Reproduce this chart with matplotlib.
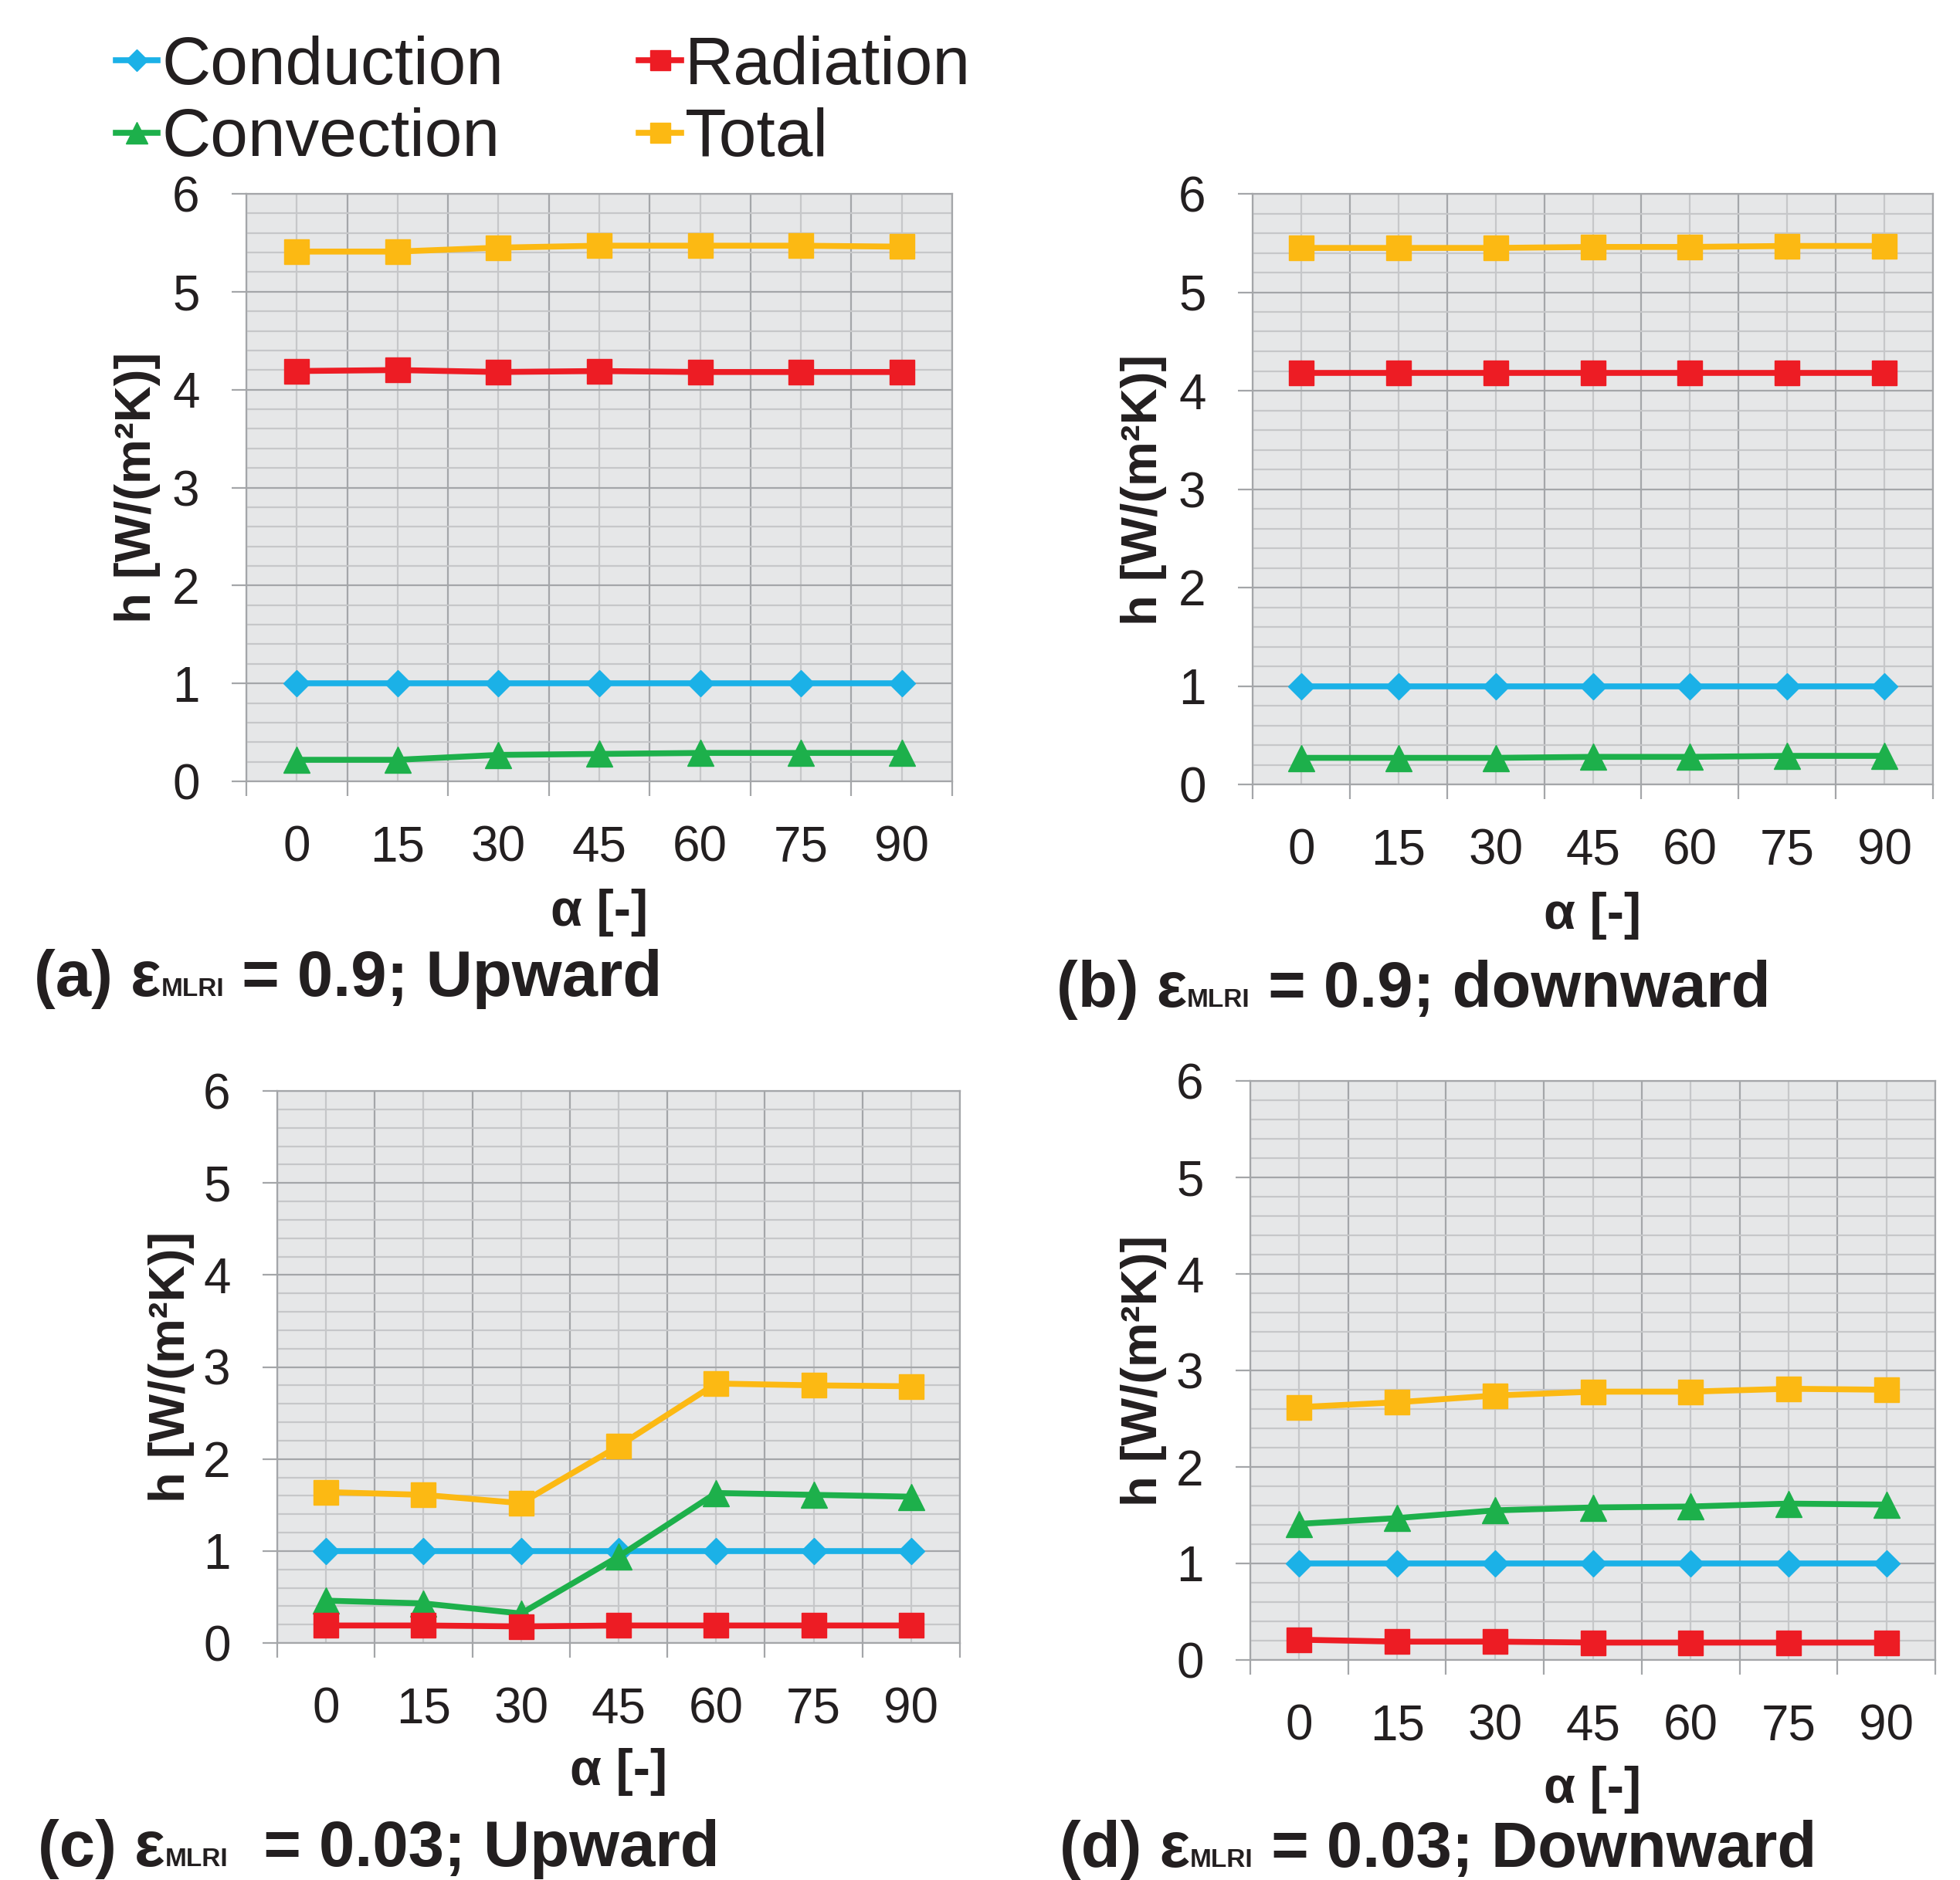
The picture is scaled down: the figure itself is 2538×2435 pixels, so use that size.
import numpy as np
import matplotlib.pyplot as plt
from matplotlib.ticker import MultipleLocator, FixedLocator, NullFormatter, FixedFormatter

# ---------------- data ----------------
angles = ['0', '15', '30', '45', '60', '75', '90']

a_conduction = [1.00, 1.00, 1.00, 1.00, 1.00, 1.00, 1.00]
a_convection = [0.22, 0.22, 0.27, 0.28, 0.29, 0.29, 0.29]
a_radiation = [4.19, 4.20, 4.18, 4.19, 4.18, 4.18, 4.18]
a_total = [5.41, 5.41, 5.45, 5.47, 5.47, 5.47, 5.46]

b_conduction = [1.00, 1.00, 1.00, 1.00, 1.00, 1.00, 1.00]
b_convection = [0.27, 0.27, 0.27, 0.28, 0.28, 0.29, 0.29]
b_radiation = [4.18, 4.18, 4.18, 4.18, 4.18, 4.18, 4.18]
b_total = [5.45, 5.45, 5.45, 5.46, 5.46, 5.47, 5.47]

c_conduction = [1.00, 1.00, 1.00, 1.00, 1.00, 1.00, 1.00]
c_convection = [0.46, 0.43, 0.32, 0.94, 1.63, 1.61, 1.59]
c_radiation = [0.19, 0.19, 0.18, 0.19, 0.19, 0.19, 0.19]
c_total = [1.64, 1.61, 1.52, 2.14, 2.82, 2.80, 2.79]

d_conduction = [1.00, 1.00, 1.00, 1.00, 1.00, 1.00, 1.00]
d_convection = [1.41, 1.47, 1.55, 1.58, 1.59, 1.62, 1.61]
d_radiation = [0.21, 0.19, 0.19, 0.18, 0.18, 0.18, 0.18]
d_total = [2.62, 2.67, 2.74, 2.78, 2.78, 2.81, 2.80]

series_names = ['Conduction', 'Convection', 'Radiation', 'Total']

# ---------------- style ----------------
W, H, DPI = 2538, 2435, 100
C_COND = '#1BB1E7'
C_CONV = '#1DB04B'
C_RAD = '#ED1C24'
C_TOT = '#FCB913'
TXT = '#231F20'
BG = '#E6E7E8'
GRID_MAJ = '#A4A6A9'
GRID_MIN = '#C6C7C9'

styles = {
    'Conduction': dict(color=C_COND, marker='D', ms=17),
    'Convection': dict(color=C_CONV, marker='^', ms=24),
    'Radiation': dict(color=C_RAD, marker='s', ms=22.5),
    'Total': dict(color=C_TOT, marker='s', ms=22.5),
}

plt.rcParams['font.family'] = ['Liberation Sans', 'DejaVu Sans']

fig = plt.figure(figsize=(W / DPI, H / DPI), dpi=DPI)


def px_axes(l, t, r, b):
    return fig.add_axes([l / W, 1 - b / H, (r - l) / W, (b - t) / H])


def draw_panel(ax, data):
    x = np.arange(len(angles))
    for name, vals in zip(series_names, data):
        st = styles[name]
        ax.plot(x, vals, color=st['color'], lw=5.5, marker=st['marker'],
                ms=st['ms'], mec=st['color'], mfc=st['color'],
                solid_joinstyle='round', label=name, zorder=3)
    ax.set_facecolor(BG)
    ax.set_xlim(-0.5, len(angles) - 0.5)
    ax.set_ylim(0, 6)
    # y axis: integer major, 0.2 minor
    ax.yaxis.set_major_locator(MultipleLocator(1))
    ax.yaxis.set_minor_locator(MultipleLocator(0.2))
    # x axis: category boundaries major (ticks), centres minor (labels)
    ax.xaxis.set_major_locator(FixedLocator(np.arange(-0.5, len(angles), 1.0)))
    ax.xaxis.set_major_formatter(NullFormatter())
    ax.xaxis.set_minor_locator(FixedLocator(x))
    ax.xaxis.set_minor_formatter(FixedFormatter(angles))
    ax.tick_params(which='major', direction='out', length=13.5, width=1.6,
                   color=GRID_MAJ, labelsize=46, labelcolor=TXT, pad=30)
    ax.tick_params(axis='y', which='minor', length=0)
    ax.tick_params(axis='x', which='minor', length=0, labelsize=46,
                   labelcolor=TXT, pad=41)
    ax.grid(which='major', color=GRID_MAJ, lw=1.6, zorder=1)
    ax.grid(which='minor', color=GRID_MIN, lw=1.6, zorder=1)
    ax.set_axisbelow(True)
    for sp in ax.spines.values():
        sp.set_color(GRID_MAJ)
        sp.set_linewidth(1.6)


ax_a = px_axes(319, 251, 1233, 1012)
ax_b = px_axes(1622, 251, 2503, 1016)
ax_c = px_axes(359, 1413, 1243, 2128)
ax_d = px_axes(1619, 1400, 2506, 2150)

draw_panel(ax_a, [a_conduction, a_convection, a_radiation, a_total])
draw_panel(ax_b, [b_conduction, b_convection, b_radiation, b_total])
draw_panel(ax_c, [c_conduction, c_convection, c_radiation, c_total])
draw_panel(ax_d, [d_conduction, d_convection, d_radiation, d_total])

# axis labels
for xc, yc in [(178, 631), (1481, 634), (222, 1770), (1481, 1775)]:
    fig.text(xc / W, 1 - yc / H, 'h [W/(m²K)]', rotation=90, ha='center',
             va='center', fontsize=47, fontweight='bold', color=TXT)
for xc, yc in [(776, 1182), (2062, 1186), (801, 2295), (2062, 2318)]:
    fig.text(xc / W, 1 - yc / H, 'α [-]', ha='center', va='center',
             fontsize=48, fontweight='bold', color=TXT)

# legend
handles, labels = ax_a.get_legend_handles_labels()
fig.legend(handles, labels, ncol=2, loc='upper left',
           bbox_to_anchor=(150 / W, 1 - 46 / H), frameon=False,
           fontsize=63, handlelength=0.62, handletextpad=0.06,
           columnspacing=2.0, labelspacing=0.14, borderpad=0,
           borderaxespad=0, labelcolor=TXT, markerscale=0.85)

# captions with small "MLRI" subscript
renderer = fig.canvas.get_renderer()
BIG = dict(fontsize=60, fontweight='bold', color=TXT,
           family=['Liberation Sans Narrow', 'Liberation Sans', 'DejaVu Sans'])
SMALL = dict(fontsize=24, fontweight='bold', color=TXT,
             family=['Liberation Sans', 'DejaVu Sans'])


def caption(x_px, base_px, label, rest):
    parts = [(label + ' ε', BIG), ('MLRI', SMALL), (rest, BIG)]
    x = x_px
    for s, kw in parts:
        t = fig.text(x / W, 1 - base_px / H, s, ha='left', va='baseline', **kw)
        x += t.get_window_extent(renderer).width


caption(44, 1290, '(a)', ' = 0.9; Upward')
caption(1368, 1304, '(b)', ' = 0.9; downward')
caption(49, 2417, '(c)', '  = 0.03; Upward')
caption(1372, 2418, '(d)', ' = 0.03; Downward')

fig.savefig('out.png', dpi=DPI)
